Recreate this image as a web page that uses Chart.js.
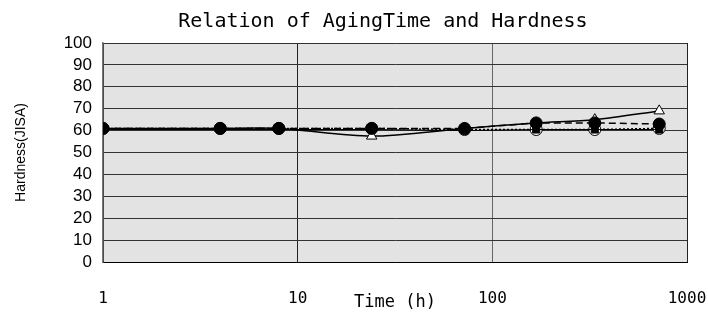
<!DOCTYPE html>
<html>
<head>
<meta charset="utf-8">
<script src="https://cdn.jsdelivr.net/npm/chart.js@4/dist/chart.umd.min.js"></script>
<style>
  html, body { margin: 0; padding: 0; background: #fff; }
  #wrap { width: 708px; height: 316px; }
</style>
</head>
<body>
<div id="wrap"><canvas id="chart" width="708" height="316"></canvas></div>
<script>
// aging time (h) and hardness readings
const hours = [1, 4, 8, 24, 72, 168, 336, 720];
const openCircle = [61, 61, 61, 61, 60.5, 60.5, 60.5, 61];
const filledCircle = [61, 61, 61, 61, 61, 63.5, 63.5, 63];
const triangle = [61, 61, 61, 57.5, 61, 63.5, 65, 69];
const square = [60.5, 60.5, 60.5, 60.5, 60, 60.5, 60.5, 60.5];
const xTicks = [1, 10, 100, 1000];
const yMax = 100;

const pts = arr => arr.map((v, i) => ({ x: hours[i], y: v }));

// grey plot area like the original sheet
const plotBg = {
  id: 'plotBg',
  beforeDraw(chart) {
    const { ctx, chartArea: a } = chart;
    ctx.save();
    ctx.fillStyle = '#e3e3e3';
    ctx.fillRect(a.left, a.top, a.right - a.left, a.bottom - a.top);
    ctx.restore();
  }
};

new Chart(document.getElementById('chart'), {
  type: 'line',
  data: {
    datasets: [
      {
        label: 'open', data: pts(openCircle), order: 4,
        borderColor: '#000', borderWidth: 1.5, borderDash: [2, 2],
        pointStyle: 'circle', pointRadius: 6, pointBackgroundColor: '#fff',
        pointBorderColor: '#000', pointBorderWidth: 1, tension: 0
      },
      {
        label: 'square', data: pts(square), order: 3,
        borderColor: '#000', borderWidth: 1,
        pointStyle: 'rect', pointRadius: 5, pointBackgroundColor: '#000',
        pointBorderColor: '#000', pointBorderWidth: 1, tension: 0
      },
      {
        label: 'triangle', data: pts(triangle), order: 2,
        borderColor: '#000', borderWidth: 1.5,
        pointStyle: 'triangle', pointRadius: 6, pointBackgroundColor: '#fff',
        pointBorderColor: '#000', pointBorderWidth: 1, tension: 0.3
      },
      {
        label: 'filled', data: pts(filledCircle), order: 1,
        borderColor: '#000', borderWidth: 1.5, borderDash: [7, 4],
        pointStyle: 'circle', pointRadius: 6, pointBackgroundColor: '#000',
        pointBorderColor: '#000', pointBorderWidth: 1, tension: 0
      }
    ]
  },
  options: {
    responsive: false,
    animation: false,
    layout: { padding: { left: 10, right: 0, top: 0, bottom: 0 } },
    plugins: {
      legend: { display: false },
      tooltip: { enabled: false },
      title: {
        display: true,
        fullSize: false,
        text: 'Relation of AgingTime and Hardness  ',
        color: '#000',
        font: { family: 'DejaVu Sans Mono', size: 20, weight: 'normal' },
        padding: { top: 10, bottom: 9 }
      }
    },
    scales: {
      x: {
        type: 'logarithmic',
        min: 1, max: 1000,
        afterBuildTicks(s) { s.ticks = xTicks.map(v => ({ value: v })); },
        afterFit(s) { s.height = 54; s.paddingRight = 21; },
        ticks: {
          color: '#000', padding: 27, maxRotation: 0, autoSkip: false,
          font: { family: 'DejaVu Sans Mono', size: 16 },
          callback: v => String(v)
        },
        grid: {
          color: ctx => (ctx.tick && ctx.tick.value === 100 ? '#666' : '#222'),
          lineWidth: 1, drawTicks: false
        },
        border: { color: '#000', width: 1 },
        title: {
          display: true, text: 'Time (h)', color: '#000',
          font: { family: 'DejaVu Sans Mono', size: 17 },
          padding: { top: 0, bottom: 3 }
        }
      },
      y: {
        min: 0, max: yMax,
        afterFit(s) { s.width = 93; },
        ticks: {
          stepSize: 10, autoSkip: false, color: '#000', padding: 11,
          font: { family: 'Liberation Sans', size: 17 }
        },
        grid: { color: '#333', lineWidth: 1, drawTicks: false },
        border: { color: '#777', width: 1.5 },
        title: {
          display: true, text: 'Hardness(JISA)', color: '#000',
          font: { family: 'Liberation Sans', size: 14 },
          padding: { top: 3, bottom: 0 }
        }
      }
    }
  },
  plugins: [plotBg]
});
</script>
</body>
</html>
